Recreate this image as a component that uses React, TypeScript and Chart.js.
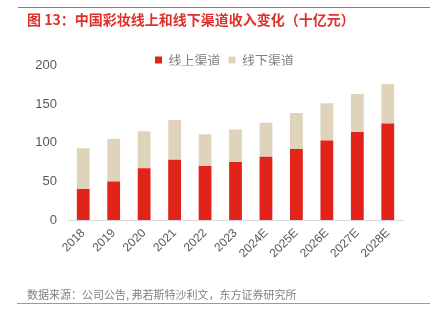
import React, { useEffect, useRef } from "react";
import { Chart, registerables } from "chart.js";

Chart.register(...registerables);

const categories = ["2018", "2019", "2020", "2021", "2022", "2023", "2024E", "2025E", "2026E", "2027E", "2028E"];
const onlineValues = [40, 50, 67, 78, 70, 75, 82, 92, 103, 114, 125];
const offlineValues = [53, 55, 48, 51.5, 41, 42, 44, 46.5, 48, 49, 51];
const yTicks = [0, 50, 100, 150, 200];
const seriesNames = ["线上渠道", "线下渠道"];
const titleText = "图 13：中国彩妆线上和线下渠道收入变化（十亿元）";
const sourceText = "数据来源：公司公告, 弗若斯特沙利文，东方证券研究所";

const CJK = '"Noto Sans CJK SC", "Noto Sans", sans-serif';
const LAT = '"Liberation Sans", Arial, sans-serif';

const decorPlugin = {
  id: "decor",
  afterDraw(chart: any) {
    const ctx = chart.ctx;
    ctx.save();
    ctx.strokeStyle = "#E8554C";
    ctx.lineWidth = 1;
    ctx.beginPath();
    ctx.moveTo(18, 7.5);
    ctx.lineTo(430, 7.5);
    ctx.stroke();
    ctx.strokeStyle = "#F07A72";
    ctx.beginPath();
    ctx.moveTo(17, 303.5);
    ctx.lineTo(430, 303.5);
    ctx.stroke();
    ctx.fillStyle = "#E0302A";
    ctx.font = `bold 14px ${CJK}`;
    ctx.textBaseline = "middle";
    ctx.textAlign = "left";
    ctx.fillText(titleText, 27, 20);
    ctx.fillStyle = "#808080";
    ctx.font = `11px ${CJK}`;
    ctx.fillText(sourceText, 27, 295);
    ctx.restore();
  },
};

export default function App() {
  const ref = useRef<HTMLCanvasElement | null>(null);
  useEffect(() => {
    if (!ref.current) return;
    const chart = new Chart(ref.current, {
      type: "bar",
      data: {
        labels: categories,
        datasets: [
          {
            label: seriesNames[0],
            data: onlineValues,
            backgroundColor: "#E2231A",
            categoryPercentage: 1,
            barPercentage: 0.42,
          },
          {
            label: seriesNames[1],
            data: offlineValues,
            backgroundColor: "#DFD3BB",
            categoryPercentage: 1,
            barPercentage: 0.42,
          },
        ],
      },
      options: {
        responsive: false,
        animation: false,
        devicePixelRatio: 1,
        layout: { padding: { top: 45.5, left: 30, right: 16, bottom: 0 } },
        plugins: {
          legend: {
            position: "top",
            maxHeight: 20,
            labels: {
              boxWidth: 7,
              boxHeight: 7,
              padding: 8,
              color: "#7f7f7f",
              font: { family: CJK, size: 13 },
            },
          },
          tooltip: { enabled: false },
          title: { display: false },
        },
        scales: {
          x: {
            stacked: true,
            grid: { display: false, drawTicks: false },
            border: { display: true, color: "#D9D9D9", width: 1 },
            ticks: {
              minRotation: 45,
              maxRotation: 45,
              padding: 6,
              color: "#595959",
              font: { family: LAT, size: 12 },
            },
            afterFit: (scale: any) => {
              scale.height = 101;
            },
          },
          y: {
            stacked: true,
            min: 0,
            max: 200,
            grid: { display: false, drawTicks: false },
            border: { display: false },
            afterBuildTicks: (scale: any) => {
              scale.ticks = yTicks.map((v) => ({ value: v }));
            },
            ticks: {
              padding: 11,
              color: "#595959",
              font: { family: LAT, size: 13 },
            },
            afterFit: (scale: any) => {
              scale.width = 38;
            },
          },
          yRight: {
            display: true,
            position: "right",
            min: 0,
            max: 200,
            grid: { display: false, drawTicks: false },
            border: { display: false },
            ticks: { display: false },
            afterFit: (scale: any) => {
              scale.width = 16;
            },
          },
        },
      },
      plugins: [decorPlugin],
    });
    return () => chart.destroy();
  }, []);
  return (
    <div style={{ position: "absolute", left: 0, top: 0, width: 435, height: 321, background: "#fff" }}>
      <canvas ref={ref} width={435} height={321} style={{ display: "block" }} />
    </div>
  );
}
